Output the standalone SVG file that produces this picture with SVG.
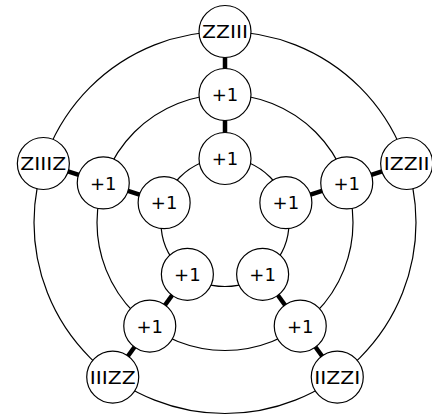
<svg xmlns="http://www.w3.org/2000/svg" width="432" height="416" viewBox="0 0 432 416">
<style>
.ring{fill:none;stroke:#000;stroke-width:1.2}
.spoke{stroke:#000;stroke-width:4.5}
.node circle{fill:#fff;stroke:#000;stroke-width:1.2}
.node text{font-family:"DejaVu Sans",Verdana,sans-serif;font-size:18px;text-anchor:middle;fill:#000}
</style>
<rect width="432" height="416" fill="#fff"/>
<g id="connectors">
<circle class="ring" cx="225" cy="222.5" r="191"/>
<circle class="ring" cx="225" cy="222.5" r="128"/>
<circle class="ring" cx="225" cy="222.5" r="64"/>
<line class="spoke" x1="225" y1="31.5" x2="225" y2="158.5"/>
<line class="spoke" x1="406.65" y1="163.48" x2="285.87" y2="202.72"/>
<line class="spoke" x1="337.27" y1="377.03" x2="262.62" y2="274.28"/>
<line class="spoke" x1="112.73" y1="377.03" x2="187.38" y2="274.28"/>
<line class="spoke" x1="43.35" y1="163.48" x2="164.13" y2="202.72"/>
</g>
<g id="n-zziii" class="node"><circle cx="225" cy="31.5" r="26"/><text x="225" y="38" textLength="46" lengthAdjust="spacingAndGlyphs">ZZIII</text></g>
<g id="n-izzii" class="node"><circle cx="406.65" cy="163.48" r="26"/><text x="406.65" y="170" textLength="46" lengthAdjust="spacingAndGlyphs">IZZII</text></g>
<g id="n-iizzi" class="node"><circle cx="337.27" cy="377.03" r="26"/><text x="337.27" y="383.5" textLength="46" lengthAdjust="spacingAndGlyphs">IIZZI</text></g>
<g id="n-iiizz" class="node"><circle cx="112.73" cy="377.03" r="26"/><text x="112.73" y="383.5" textLength="46" lengthAdjust="spacingAndGlyphs">IIIZZ</text></g>
<g id="n-ziiiz" class="node"><circle cx="43.35" cy="163.48" r="26"/><text x="43.35" y="170" textLength="46" lengthAdjust="spacingAndGlyphs">ZIIIZ</text></g>
<g id="m0" class="node"><circle cx="225" cy="94.5" r="26"/><text x="225" y="101">+1</text></g>
<g id="m1" class="node"><circle cx="346.74" cy="182.94" r="26"/><text x="346.74" y="189.5">+1</text></g>
<g id="m2" class="node"><circle cx="300.24" cy="326.05" r="26"/><text x="300.24" y="332.5">+1</text></g>
<g id="m3" class="node"><circle cx="149.76" cy="326.05" r="26"/><text x="149.76" y="332.5">+1</text></g>
<g id="m4" class="node"><circle cx="103.26" cy="182.94" r="26"/><text x="103.26" y="189.5">+1</text></g>
<g id="i0" class="node"><circle cx="225" cy="158.5" r="26"/><text x="225" y="165">+1</text></g>
<g id="i1" class="node"><circle cx="285.87" cy="202.72" r="26"/><text x="285.87" y="209.2">+1</text></g>
<g id="i2" class="node"><circle cx="262.62" cy="274.28" r="26"/><text x="262.62" y="280.8">+1</text></g>
<g id="i3" class="node"><circle cx="187.38" cy="274.28" r="26"/><text x="187.38" y="280.8">+1</text></g>
<g id="i4" class="node"><circle cx="164.13" cy="202.72" r="26"/><text x="164.13" y="209.2">+1</text></g>
</svg>
